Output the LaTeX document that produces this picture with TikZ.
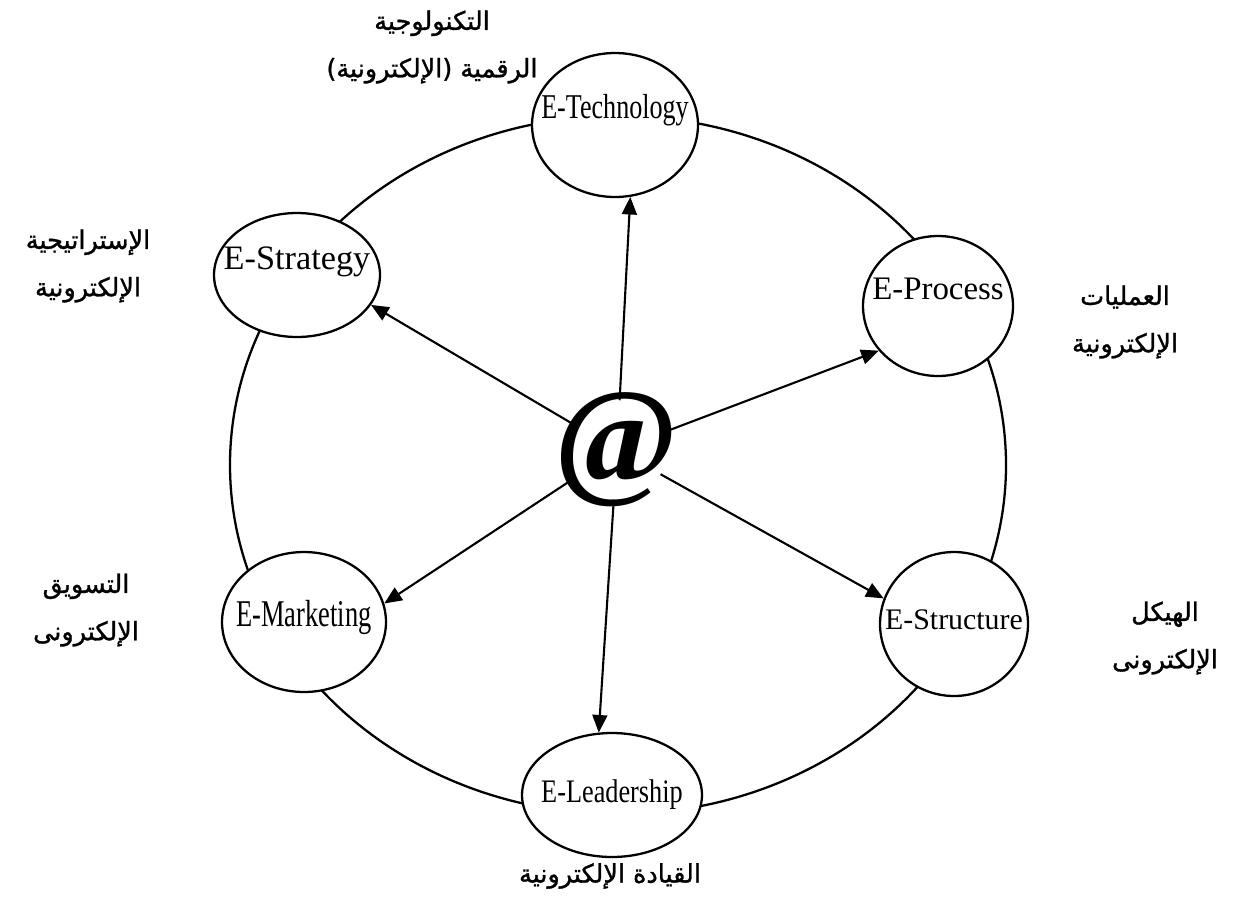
\documentclass[tikz,border=0pt]{standalone}
\usepackage{fontspec}
\setmainfont{Liberation Serif}
\newfontfamily\arabicfont[Script=Arabic,FakeBold=1.2]{DejaVu Sans}
\TeXXeTstate=1
\usetikzlibrary{shapes.geometric,arrows.meta}
\begin{document}
\begin{tikzpicture}[x=0.02cm,y=-0.02cm,
  bubble/.style={ellipse, draw, line width=1.3pt, fill=white, inner sep=0pt},
  ring/.style={line width=1.3pt},
  arr/.style={line width=1.2pt, -{Triangle[length=10pt,width=8.5pt]}},
  ar/.style={font=\arabicfont\fontsize{14.5}{27}\selectfont, align=center, inner sep=0pt}]
\useasboundingbox (0,0) rectangle (1240,907);
\fill[white] (0,0) rectangle (1240,907);
% outer ring
\draw[ring] (618,465) ellipse [x radius=388, y radius=349];
% nodes
\node[bubble, minimum width=3.32cm, minimum height=2.88cm,
  label={[yshift=0.3cm]center:\fontsize{19.8}{22}\selectfont\scalebox{0.75}[1]{E-Technology}}] (tech) at (615,125) {};
\node[bubble, minimum width=3.32cm, minimum height=2.48cm,
  label={[yshift=0.26cm]center:\fontsize{19.5}{22}\selectfont E-Strategy}] (strat) at (297,275) {};
\node[bubble, minimum width=3.0cm, minimum height=2.8cm,
  label={[yshift=0.35cm]center:\fontsize{18.7}{22}\selectfont E-Process}] (proc) at (938,306) {};
\node[bubble, minimum width=3.28cm, minimum height=2.8cm,
  label={[yshift=0.1cm]center:\fontsize{21.5}{24}\selectfont\scalebox{0.7}[1]{E-Marketing}}] (mark) at (304,622) {};
\node[bubble, minimum width=2.96cm, minimum height=2.88cm,
  label={[yshift=0.08cm]center:\fontsize{17}{20}\selectfont E-Structure}] (struc) at (954,624) {};
\node[bubble, minimum width=3.6cm, minimum height=2.48cm,
  label={center:\fontsize{18.7}{22}\selectfont\scalebox{0.8}[1]{E-Leadership}}] (lead) at (612,795) {};
% centre
\node[circle, inner sep=-14pt, minimum size=0pt, font=\bfseries\fontsize{76}{76}\selectfont] (at) at (617,450) {@};
% arrows
\draw[arr] (at) -- (tech.-78);
\draw[arr] (at) -- (strat.-22);
\draw[arr] (at) -- (proc.217);
\draw[arr] (at) -- (mark.13);
\draw[arr] (at) -- (struc.160);
\draw[arr] (at) -- (lead.102);
% arabic labels
\node[ar] (ltech) at (432,47) {\beginR التكنولوجية\endR\\\beginR الرقمية (الإلكترونية)\endR};
\node[ar] (lstrat) at (88,266) {\beginR الإستراتيجية\endR\\\beginR الإلكترونية\endR};
\node[ar] (lproc) at (1125,322) {\beginR العمليات\endR\\\beginR الإلكترونية\endR};
\node[ar] (lmark) at (86,610) {\beginR التسويق\endR\\\beginR الإلكترونى\endR};
\node[ar] (lstruc) at (1165,638) {\beginR الهيكل\endR\\\beginR الإلكترونى\endR};
\node[ar] (llead) at (610,876) {\beginR القيادة الإلكترونية\endR};
\end{tikzpicture}
\end{document}
